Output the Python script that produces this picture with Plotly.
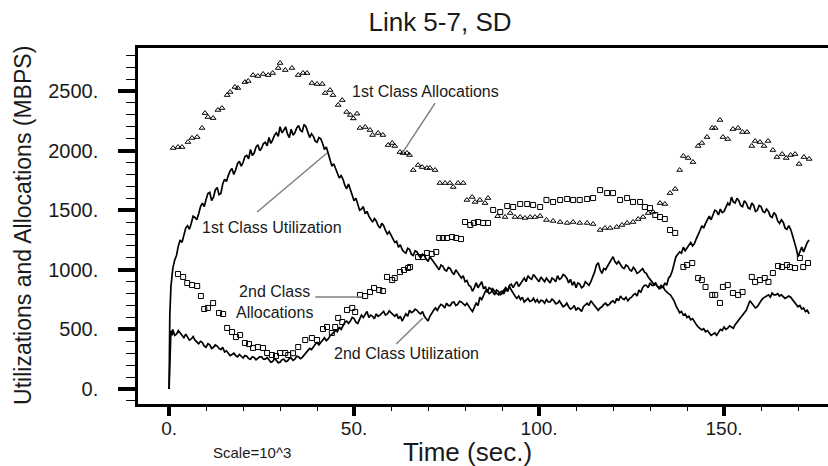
import plotly.graph_objects as go

# ---------------- data ----------------
# time grid of the utilization traces (s): start-up samples, then every 0.5 s
t_util = [0, 0.2, 0.5, 0.8] + [k / 2 for k in range(2, 347)]

util_1st = [0, 620, 860, 950,
    1010, 1080, 1120, 1200, 1250, 1230, 1290, 1350, 1370, 1340, 1390, 1450, 1440, 1420, 1470, 1530, 1560, 1530, 1590, 1640,
    1650, 1580, 1610, 1670, 1690, 1630, 1640, 1720, 1760, 1740, 1790, 1830, 1850, 1800, 1840, 1890, 1910, 1870, 1900, 1950,
    1960, 1930, 2010, 1960, 1980, 2030, 2050, 2000, 2020, 2060, 2070, 2040, 2110, 2060, 2090, 2130, 2150, 2120, 2200, 2150,
    2170, 2200, 2140, 2110, 2180, 2130, 2150, 2190, 2210, 2170, 2160, 2220, 2200, 2150, 2110, 2140, 2120, 2080, 2070, 2110,
    2100, 2060, 2010, 2030, 1980, 1920, 1870, 1890, 1850, 1800, 1770, 1790, 1760, 1710, 1680, 1720, 1670, 1620, 1580, 1600,
    1550, 1500, 1510, 1530, 1470, 1490, 1450, 1420, 1400, 1430, 1410, 1370, 1350, 1390, 1370, 1330, 1300, 1320, 1290, 1250,
    1230, 1240, 1190, 1210, 1170, 1150, 1140, 1180, 1170, 1130, 1120, 1160, 1150, 1120, 1100, 1130, 1120, 1090, 1070, 1110,
    1090, 1060, 1040, 1020, 1000, 1040, 1030, 1000, 990, 1020, 1010, 980, 960, 1000, 980, 950, 930, 950, 900, 910,
    870, 860, 820, 850, 890, 850, 870, 900, 840, 860, 810, 850, 840, 820, 790, 830, 820, 790, 800, 830,
    850, 820, 870, 880, 850, 880, 900, 860, 880, 910, 930, 900, 950, 930, 920, 960, 940, 910, 900, 940,
    920, 900, 930, 910, 890, 930, 920, 900, 950, 920, 930, 960, 950, 930, 890, 920, 870, 900, 850, 890,
    880, 850, 860, 900, 880, 870, 900, 940, 980, 1040, 1060, 1000, 970, 1010, 1000, 1030, 1060, 1080, 1110, 1070,
    1050, 1070, 1040, 1020, 1010, 1040, 1030, 1000, 990, 1020, 1000, 970, 980, 1000, 1010, 980, 970, 940, 920, 900,
    880, 890, 860, 850, 870, 850, 890, 870, 930, 950, 990, 1050, 1110, 1130, 1150, 1140, 1190, 1160, 1180, 1210,
    1230, 1200, 1220, 1260, 1290, 1330, 1370, 1350, 1390, 1420, 1450, 1420, 1460, 1500, 1490, 1460, 1510, 1480, 1490, 1530,
    1560, 1540, 1610, 1570, 1560, 1600, 1580, 1540, 1530, 1580, 1560, 1520, 1510, 1560, 1540, 1490, 1500, 1540, 1530, 1490,
    1480, 1510, 1490, 1450, 1440, 1480, 1460, 1410, 1390, 1420, 1400, 1350, 1340, 1370, 1340, 1290, 1240, 1180, 1110, 1160,
    1190, 1150, 1200, 1230, 1250]

util_2nd = [0, 260, 490, 450,
    500, 450, 460, 490, 470, 440, 430, 460, 440, 410, 420, 440, 410, 390, 380, 400, 390, 360, 350, 380,
    370, 340, 350, 370, 360, 340, 330, 350, 310, 320, 300, 280, 290, 300, 280, 270, 290, 275, 260, 280,
    275, 255, 250, 270, 265, 245, 255, 270, 270, 250, 250, 265, 245, 225, 230, 255, 240, 220, 225, 245,
    250, 230, 235, 255, 260, 240, 250, 275, 270, 255, 265, 285, 300, 320, 340, 330, 355, 375, 390, 370,
    390, 410, 430, 405, 420, 445, 460, 470, 490, 480, 520, 500, 530, 560, 570, 550, 570, 600, 590, 560,
    550, 590, 620, 600, 630, 650, 600, 620, 610, 590, 630, 610, 620, 640, 650, 620, 630, 655, 640, 620,
    610, 630, 590, 610, 570, 600, 630, 610, 660, 640, 650, 670, 660, 640, 630, 650, 610, 590, 570, 610,
    640, 660, 680, 660, 690, 710, 700, 680, 720, 700, 700, 725, 730, 700, 710, 735, 730, 710, 700, 720,
    690, 670, 650, 690, 720, 700, 770, 750, 790, 820, 830, 800, 810, 840, 820, 800, 790, 810, 820, 800,
    840, 820, 860, 830, 800, 780, 760, 780, 750, 770, 730, 750, 760, 735, 740, 760, 730, 750, 720, 745,
    740, 720, 750, 730, 730, 755, 740, 715, 720, 740, 710, 690, 700, 720, 690, 670, 680, 700, 660, 680,
    670, 650, 690, 710, 720, 700, 740, 720, 700, 680, 660, 680, 690, 710, 720, 700, 710, 730, 740, 720,
    760, 740, 780, 760, 750, 770, 740, 760, 770, 790, 800, 780, 830, 810, 850, 870, 870, 850, 890, 870,
    870, 880, 860, 840, 850, 860, 830, 810, 800, 790, 770, 740, 700, 670, 640, 650, 620, 630, 600, 610,
    580, 590, 560, 540, 520, 510, 495, 505, 480, 490, 470, 450, 460, 470, 450, 470, 500, 490, 520, 500,
    510, 530, 520, 510, 540, 560, 580, 600, 620, 640, 660, 700, 740, 720, 700, 680, 690, 720, 740, 760,
    770, 780, 790, 770, 805, 790, 790, 800, 780, 790, 775, 760, 770, 780, 770, 750, 740, 720, 690, 700,
    670, 680, 650, 660, 630]

t_alloc_1st = [1.1, 2.4, 3.5, 5.1, 6.2, 7.6, 8.9, 9.7, 10.5, 11.9, 13.2, 14.3,
    15.7, 16.5, 17.8, 18.6, 20.5, 21.4, 22.7, 24.0, 25.4, 26.8, 28.0, 29.5,
    30.0, 31.4, 33.2, 34.9, 36.2, 37.3, 38.6, 40.0, 41.4, 42.2, 43.5, 44.3,
    45.7, 46.8, 48.0, 49.0, 49.8, 50.8, 51.6, 53.0, 54.3, 55.0, 56.5, 57.8,
    59.2, 60.3, 61.0, 62.4, 63.2, 64.3, 65.0, 66.0, 67.3, 68.4, 69.7, 70.5,
    71.9, 73.2, 74.6, 75.9, 76.8, 78.1, 79.5, 80.5, 81.9, 82.7, 84.0, 85.4,
    86.2, 88.8, 90.8, 92.2, 93.5, 94.9, 96.2, 97.6, 98.9, 100.3, 102.0, 103.8,
    105.7, 107.6, 109.2, 111.0, 113.0, 114.6, 116.5, 117.8, 119.2, 121.0, 122.4,
    123.8, 125.4, 126.8, 128.1, 129.5, 130.8, 132.7, 134.0, 135.4, 136.8, 138.0,
    139.0, 140.3, 141.6, 143.0, 144.0, 145.4, 146.8, 147.6, 148.9, 149.7, 151.0,
    152.4, 153.8, 155.0, 156.2, 157.5, 158.4, 159.7, 160.8, 161.9, 163.2, 164.3,
    165.7, 166.8, 168.0, 169.2, 170.3, 171.6, 173.0]
alloc_1st = [2022, 2030, 2030, 2072, 2106, 2114, 2190, 2315, 2282, 2273, 2341, 2357,
    2466, 2492, 2534, 2525, 2575, 2584, 2634, 2626, 2643, 2634, 2651, 2693,
    2735, 2676, 2693, 2634, 2651, 2651, 2567, 2559, 2559, 2483, 2508, 2466,
    2383, 2424, 2324, 2299, 2270, 2310, 2190, 2198, 2173, 2131, 2148, 2131,
    2047, 2064, 2039, 1988, 1980, 1980, 1963, 1837, 1879, 1862, 1854, 1854,
    1837, 1728, 1728, 1728, 1695, 1728, 1728, 1586, 1611, 1569, 1586, 1560,
    1602, 1450, 1443, 1476, 1443, 1443, 1435, 1443, 1443, 1451, 1418, 1410,
    1401, 1393, 1401, 1393, 1393, 1384, 1334, 1351, 1351, 1359, 1376,
    1393, 1401, 1426, 1443, 1476, 1485, 1560, 1552, 1644, 1678, 1837,
    1955, 1938, 1904, 2039, 2064, 2114, 2190, 2190, 2257, 2114, 2097,
    2181, 2190, 2156, 2156, 2039, 2081, 2072, 2039, 2081, 2005, 1946,
    1971, 1938, 1963, 1971, 1888, 1946, 1930]

t_alloc_2nd = [2.4, 3.8, 4.9, 6.2, 7.6, 8.6, 9.5, 10.5, 11.9, 13.5, 14.6, 15.7,
    17.0, 18.1, 19.2, 20.5, 21.6, 22.7, 24.0, 25.4, 26.5, 27.8, 28.9, 30.0,
    31.4, 32.2, 33.5, 34.9, 36.8, 38.6, 40.0, 41.6, 42.7, 44.0, 44.9, 45.7,
    46.8, 48.1, 49.5, 50.3, 51.6, 53.0, 54.3, 55.4, 56.8, 57.8, 58.9, 60.3,
    61.0, 62.4, 63.5, 64.6, 65.1, 67.3, 68.6, 69.7, 71.0, 72.2, 73.0, 74.0,
    75.1, 76.5, 77.6, 78.9, 80.0, 81.4, 82.4, 83.5, 84.9, 86.2, 87.6, 89.5,
    91.4, 93.0, 94.9, 96.8, 98.4, 100.3, 102.0, 103.8, 105.7, 107.6, 109.2,
    111.0, 113.0, 114.6, 116.5, 118.4, 120.0, 121.9, 123.8, 125.4, 127.3,
    128.6, 130.0, 131.4, 132.7, 134.0, 135.4, 136.8, 139.0, 140.0, 141.4,
    143.0, 144.0, 145.0, 146.8, 147.6, 148.9, 149.7, 151.0, 152.4, 153.8,
    155.0, 157.5, 158.4, 159.7, 161.0, 162.0, 163.2, 164.6, 165.7, 167.0,
    167.8, 169.2, 170.5, 171.4, 172.7]
alloc_2nd = [965, 940, 889, 872, 864, 780, 671, 680, 721, 638, 629, 512,
    478, 436, 453, 386, 377, 344, 352, 344, 302, 285, 277, 302,
    302, 285, 300, 352, 411, 428, 411, 503, 520, 470, 520, 596,
    562, 663, 680, 646, 789, 780, 814, 847, 830, 822, 940, 914,
    931, 981, 998, 1015, 1023, 1107, 1107, 1141, 1133, 1149, 1267, 1267,
    1267, 1275, 1267, 1258, 1401, 1376, 1393, 1401, 1393, 1393, 1502, 1485,
    1535, 1527, 1552, 1552, 1544, 1527, 1586, 1569, 1586, 1594, 1586,
    1586, 1594, 1602, 1669, 1644, 1644, 1586, 1602, 1569, 1569,
    1527, 1518, 1460, 1443, 1426, 1334, 1309, 1023, 1040, 1057,
    931, 914, 856, 789, 789, 722, 856, 872, 805, 789,
    814, 940, 898, 914, 931, 898, 973, 1032, 1023, 1040,
    1023, 1015, 1099, 1023, 1057]

x_tick_vals = [0, 50, 100, 150]
x_tick_text = ["0.", "50.", "100.", "150."]
y_tick_vals = [0, 500, 1000, 1500, 2000, 2500]
y_tick_text = ["0.", "500.", "1000.", "1500.", "2000.", "2500."]

# ---------------- figure ----------------
FONT = "Liberation Sans, Arial, Helvetica, sans-serif"
TXT = "#1a1a1a"
fig = go.Figure()

fig.add_trace(go.Scatter(x=t_util, y=util_1st, mode="lines",
                         line=dict(color="black", width=1.7), name="1st Class Utilization"))
fig.add_trace(go.Scatter(x=t_util, y=util_2nd, mode="lines",
                         line=dict(color="black", width=1.7), name="2nd Class Utilization"))
fig.add_trace(go.Scatter(x=t_alloc_1st, y=alloc_1st, mode="markers",
                         marker=dict(symbol="triangle-up-open", size=5, color="black",
                                     line=dict(width=1, color="black")),
                         name="1st Class Allocations"))
fig.add_trace(go.Scatter(x=t_alloc_2nd, y=alloc_2nd, mode="markers",
                         marker=dict(symbol="square-open", size=5, color="black",
                                     line=dict(width=1, color="black")),
                         name="2nd Class Allocations"))

grey = "#808080"
leaders = [((71.9, 2399), (63.2, 1988)),
           ((23.8, 1485), (42.7, 1980)),
           ((39.5, 772), (52.2, 772)),
           ((61.4, 378), (68.6, 596))]
for (x0, y0), (x1, y1) in leaders:
    fig.add_shape(type="line", xref="x", yref="y", x0=x0, y0=y0, x1=x1, y1=y1,
                  line=dict(color=grey, width=1.5))

lab_font = dict(family=FONT, size=16, color=TXT)
labels = [("1st Class Allocations", 69.2, 2492),
          ("1st Class Utilization", 27.8, 1359),
          ("2nd Class<br>Allocations", 28.6, 734),
          ("2nd Class Utilization", 64.1, 294)]
for txt, x, y in labels:
    fig.add_annotation(text=txt, x=x, y=y, xref="x", yref="y", showarrow=False,
                       font=lab_font, align="center", xanchor="center", yanchor="middle")

fig.add_annotation(text="Utilizations and Allocations (MBPS)", xref="paper", yref="paper",
                   x=-0.1667, y=0.503, textangle=-90, showarrow=False,
                   xanchor="center", yanchor="middle",
                   font=dict(family=FONT, size=23, color=TXT))
fig.add_annotation(text="Time (sec.)", xref="paper", yref="paper", x=0.478, y=-0.135,
                   showarrow=False, xanchor="center", yanchor="middle",
                   font=dict(family=FONT, size=26, color=TXT))
fig.add_annotation(text="Scale=10^3", xref="paper", yref="paper", x=0.165, y=-0.135,
                   showarrow=False, xanchor="center", yanchor="middle",
                   font=dict(family=FONT, size=15, color=TXT))

fig.update_layout(
    width=828, height=466,
    margin=dict(l=138, r=0, t=48, b=62),
    paper_bgcolor="white", plot_bgcolor="white",
    showlegend=False,
    title=dict(text="Link 5-7, SD", x=440 / 828, xref="container", xanchor="center",
               y=1 - 22 / 466, yref="container", yanchor="middle",
               font=dict(family=FONT, size=26, color=TXT)),
    font=dict(family=FONT, color=TXT),
)
fig.update_xaxes(range=[-8.4, 178.1], showgrid=False, zeroline=False,
                 showline=True, linecolor="black", linewidth=2.5, mirror=True,
                 ticks="outside", tickvals=x_tick_vals, ticktext=x_tick_text,
                 ticklen=9, tickwidth=3.5, tickcolor="black",
                 tickfont=dict(family=FONT, size=19, color=TXT),
                 ticklabelstandoff=-4,
                 minor=dict(dtick=10, tick0=0, ticks="outside", ticklen=4,
                            tickwidth=1.2, tickcolor="black"))
fig.update_yaxes(range=[-126, 2861], showgrid=False, zeroline=False,
                 showline=True, linecolor="black", linewidth=2.5,
                 ticks="outside", tickvals=y_tick_vals, ticktext=y_tick_text,
                 ticklen=17, tickwidth=4, tickcolor="black",
                 tickfont=dict(family=FONT, size=20, color=TXT),
                 ticklabelstandoff=16,
                 minor=dict(dtick=100, tick0=0, ticks="outside", ticklen=9,
                            tickwidth=1.3, tickcolor="black"))

fig.write_html("out.html", config={"displayModeBar": False},
               post_script="document.body.style.margin='0';")
